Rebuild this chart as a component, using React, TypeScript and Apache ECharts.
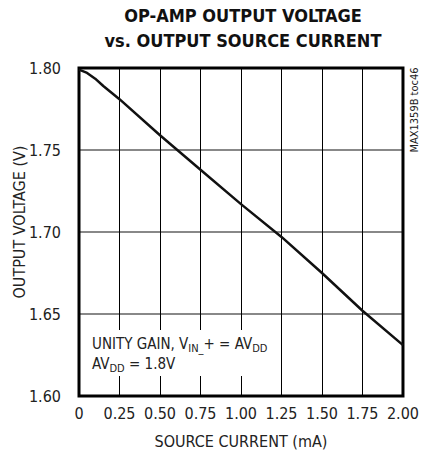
import React, { useEffect, useRef } from "react";
import * as echarts from "echarts";

const currentMA = [0, 0.05, 0.1, 0.15, 0.25, 0.5, 0.75, 1.0, 1.25, 1.5, 1.75, 2.0];
const outputV = [1.799, 1.797, 1.7935, 1.789, 1.781, 1.759, 1.738, 1.717, 1.697, 1.675, 1.652, 1.631];
const xTicks = ["0", "0.25", "0.50", "0.75", "1.00", "1.25", "1.50", "1.75", "2.00"];
const yTicks = ["1.60", "1.65", "1.70", "1.75", "1.80"];

const FONT = "'Liberation Sans Narrow', 'DejaVu Sans Condensed', sans-serif";

export default function App() {
  const ref = useRef<HTMLDivElement>(null);
  useEffect(() => {
    if (!ref.current) return;
    const chart = echarts.init(ref.current, undefined, { renderer: "svg" });
    const data = currentMA.map((x, i) => [x, outputV[i]]);
    const rich = {
      a: { fontSize: 15, fontFamily: FONT, fill: "#222", lineHeight: 20 },
      s: { fontSize: 11, fontFamily: FONT, fill: "#222", padding: [8, 0, 0, 0], lineHeight: 20 },
    };
    chart.setOption({
      animation: false,
      backgroundColor: "#fff",
      textStyle: { fontFamily: FONT },
      grid: {
        left: 79,
        right: 15,
        top: 68,
        bottom: 62,
        show: true,
        borderColor: "#000",
        borderWidth: 3,
        backgroundColor: "transparent",
        z: 5,
      },
      xAxis: {
        type: "value",
        min: 0,
        max: 2,
        interval: 0.25,
        axisLine: { show: false },
        axisTick: { show: false },
        axisLabel: {
          color: "#222",
          fontSize: 16,
          fontFamily: FONT,
          margin: 9,
          formatter: (v: number) => xTicks[Math.round(v / 0.25)],
        },
        splitLine: { show: true, lineStyle: { color: "#000", width: 1 } },
        name: "SOURCE CURRENT (mA)",
        nameLocation: "middle",
        nameGap: 37,
        nameTextStyle: { color: "#222", fontSize: 16, fontFamily: FONT },
      },
      yAxis: {
        type: "value",
        min: 1.6,
        max: 1.8,
        interval: 0.05,
        axisLine: { show: false },
        axisTick: { show: false },
        axisLabel: {
          color: "#222",
          fontSize: 16,
          fontFamily: FONT,
          margin: 18,
          formatter: (v: number) => yTicks[Math.round((v - 1.6) / 0.05)],
        },
        splitLine: { show: true, lineStyle: { color: "#888", width: 2 } },
      },
      graphic: [
        {
          type: "text",
          x: 243,
          y: 15,
          z: 100,
          style: {
            text: "OP-AMP OUTPUT VOLTAGE",
            fontSize: 18,
            fontWeight: "bold",
            fontFamily: FONT,
            fill: "#111",
            align: "center",
            verticalAlign: "middle",
          },
        },
        {
          type: "text",
          x: 243,
          y: 40,
          z: 100,
          style: {
            text: "vs. OUTPUT SOURCE CURRENT",
            fontSize: 18,
            fontWeight: "bold",
            fontFamily: FONT,
            fill: "#111",
            align: "center",
            verticalAlign: "middle",
          },
        },
        {
          type: "text",
          x: 19,
          y: 222,
          rotation: Math.PI / 2,
          z: 100,
          style: {
            text: "OUTPUT VOLTAGE (V)",
            fontSize: 16,
            fontFamily: FONT,
            fill: "#222",
            align: "center",
            verticalAlign: "middle",
          },
        },
        {
          type: "text",
          x: 414,
          y: 110,
          rotation: Math.PI / 2,
          z: 100,
          style: {
            text: "MAX1359B toc46",
            fontSize: 11,
            fontFamily: FONT,
            fill: "#222",
            align: "center",
            verticalAlign: "middle",
          },
        },
        {
          type: "rect",
          z: 50,
          shape: { x: 88, y: 330, width: 182, height: 46 },
          style: { fill: "#fff" },
        },
        {
          type: "text",
          x: 92,
          y: 344,
          z: 100,
          style: {
            text: "{a|UNITY GAIN, V}{s|IN_}{a|+ = AV}{s|DD}",
            fontFamily: FONT,
            fill: "#222",
            align: "left",
            verticalAlign: "middle",
            rich,
          },
        },
        {
          type: "text",
          x: 92,
          y: 364,
          z: 100,
          style: {
            text: "{a|AV}{s|DD}{a| = 1.8V}",
            fontFamily: FONT,
            fill: "#222",
            align: "left",
            verticalAlign: "middle",
            rich,
          },
        },
      ],
      series: [
        {
          type: "line",
          data,
          showSymbol: false,
          symbol: "none",
          lineStyle: { color: "#111", width: 2.5 },
          z: 10,
        },
      ],
    });
    return () => chart.dispose();
  }, []);
  return (
    <div
      ref={ref}
      style={{ position: "fixed", left: 0, top: 0, width: 422, height: 458 }}
    />
  );
}
